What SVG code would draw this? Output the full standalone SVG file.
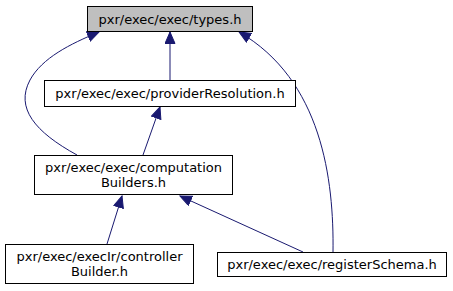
<svg xmlns="http://www.w3.org/2000/svg" width="453" height="291" viewBox="0 0 453 291">
<style>
.n rect{fill:#fff;stroke:#000;stroke-width:1}
.n text{font-family:"DejaVu Sans",sans-serif;font-size:13px;text-anchor:middle;fill:#000}
.e path{fill:none;stroke:#191970;stroke-width:1}
</style>
<defs>
<marker id="a" markerWidth="14" markerHeight="12" refX="12" refY="5.5" orient="auto" markerUnits="userSpaceOnUse">
<path d="M0.5,0.5 L12,5.5 L0.5,10.5 Z" fill="#191970" stroke="#191970"/>
</marker>
</defs>
<rect width="453" height="291" fill="#fff"/>
<g class="e">
<path d="M77,155 C35,132 15,108 30,80 C42,58 70,44 99,32" marker-end="url(#a)"/>
<path d="M170,80 L170,32" marker-end="url(#a)"/>
<path d="M333,252 C334,180 322,80 239,32" marker-end="url(#a)"/>
<path d="M143,155 L160,107" marker-end="url(#a)"/>
<path d="M107,244 L122,196" marker-end="url(#a)"/>
<path d="M303,252 L180,196" marker-end="url(#a)"/>
</g>
<g id="types" class="n"><rect x="87.5" y="6.5" width="165" height="25" style="fill:#bfbfbf"/><text x="170" y="23.5">pxr/exec/exec/types.h</text></g>
<g id="providerResolution" class="n"><rect x="44.5" y="80.5" width="251" height="26"/><text x="170" y="98">pxr/exec/exec/providerResolution.h</text></g>
<g id="computationBuilders" class="n"><rect x="34.5" y="155.5" width="198" height="39"/><text x="133.5" y="171.5">pxr/exec/exec/computation</text><text x="133.5" y="186.5">Builders.h</text></g>
<g id="controllerBuilder" class="n"><rect x="5.5" y="244.5" width="188" height="39"/><text x="99.5" y="260.5">pxr/exec/execIr/controller</text><text x="99.5" y="275.5">Builder.h</text></g>
<g id="registerSchema" class="n"><rect x="217.5" y="252.5" width="229" height="24"/><text x="332" y="269">pxr/exec/exec/registerSchema.h</text></g>
</svg>
